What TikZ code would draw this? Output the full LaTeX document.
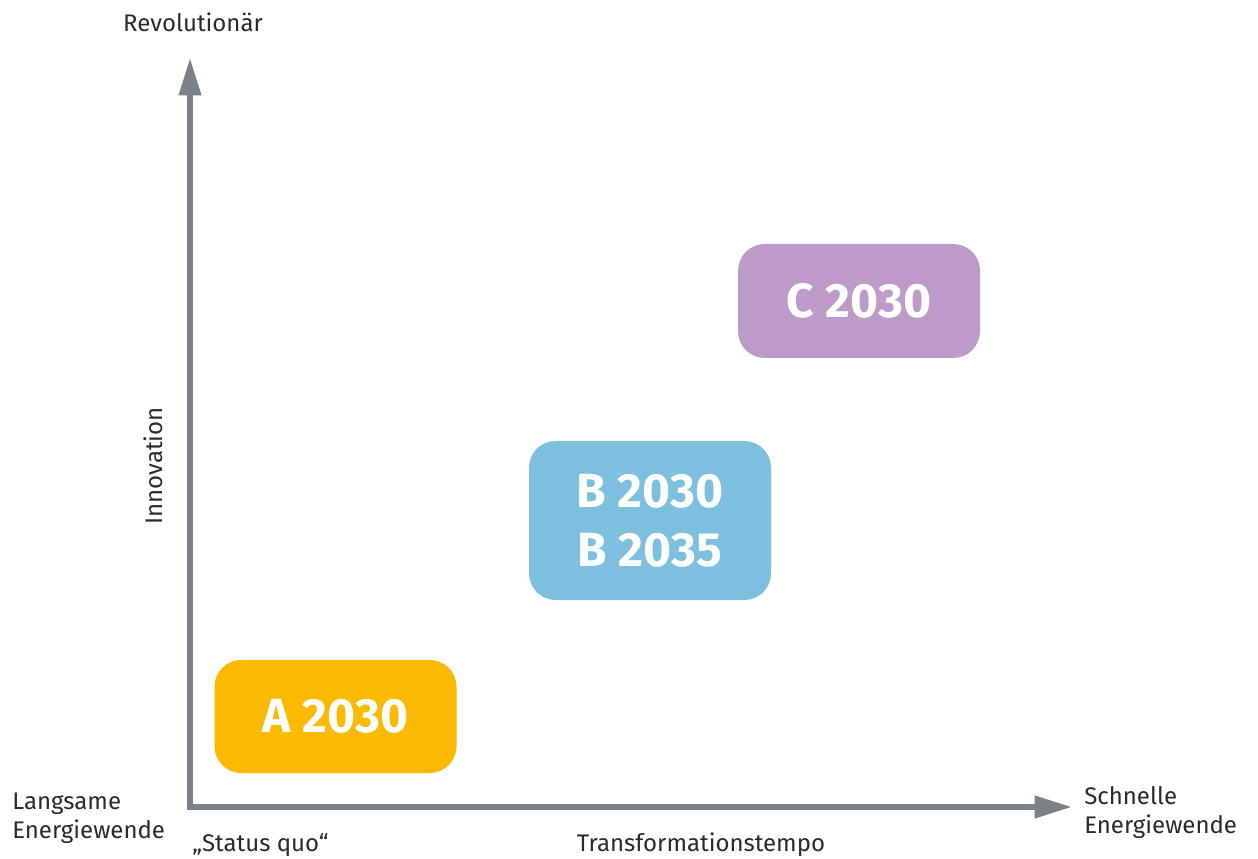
\documentclass[tikz,border=0pt]{standalone}
\usepackage{fontspec}
\setmainfont{Fira Sans}
\usetikzlibrary{arrows.meta}

\definecolor{achsgrau}{HTML}{7A8288}
\definecolor{szenA}{HTML}{FBBA00}
\definecolor{szenB}{HTML}{7CBFDE}
\definecolor{szenC}{HTML}{BD9BC9}
\definecolor{textdunkel}{HTML}{2A2A2A}

\tikzset{
Szenario/.style={rounded corners=20, inner sep=0pt, text=white, align=center,
        font=\fontsize{36}{44}\selectfont\bfseries, minimum width=181.5pt},
Achse/.style={draw=achsgrau, line width=4.5pt, line join=miter,
        arrows={Triangle[length=28pt,width=16pt]-Triangle[length=28pt,width=16pt]}},
AchsenText/.style={text=textdunkel, inner sep=0pt, font=\fontsize{18}{21.75}\selectfont},
}

\begin{document}
\begin{tikzpicture}[x=0.75pt,y=-0.75pt]
	\useasboundingbox (0,0) rectangle (1258,859);

	% Achsen
	\coordinate (Ursprung) at (190,807);
	\coordinate (Oben) at (190,58);
	\coordinate (Rechts) at (1072,807);
	\draw[Achse] (Oben) -- (Ursprung) -- (Rechts);

	% Szenarien
	\node[Szenario, fill=szenA, minimum height=84.75pt] (A) at (335.5,716.5) {A 2030};
	\node[Szenario, fill=szenB, minimum height=119.25pt] (B) at (650,520.5) {B 2030\\B 2035};
	\node[Szenario, fill=szenC, minimum height=85.5pt] (C) at (859,301) {C 2030};

	% Beschriftungen
	\node[AchsenText] (Rev) at (193,22) {Revolution\"ar};
	\node[AchsenText, rotate=90] (Inno) at (153,466) {Innovation};
	\node[AchsenText, anchor=west, align=left] (Langsam) at (12,818) {Langsame\\Energiewende};
	\node[AchsenText, anchor=west] (Status) at (192,845) {„Status quo“};
	\node[AchsenText] (Tempo) at (701,845) {Transformationstempo};
	\node[AchsenText, anchor=west, align=left] (Schnell) at (1084,813) {Schnelle\\Energiewende};
\end{tikzpicture}
\end{document}
